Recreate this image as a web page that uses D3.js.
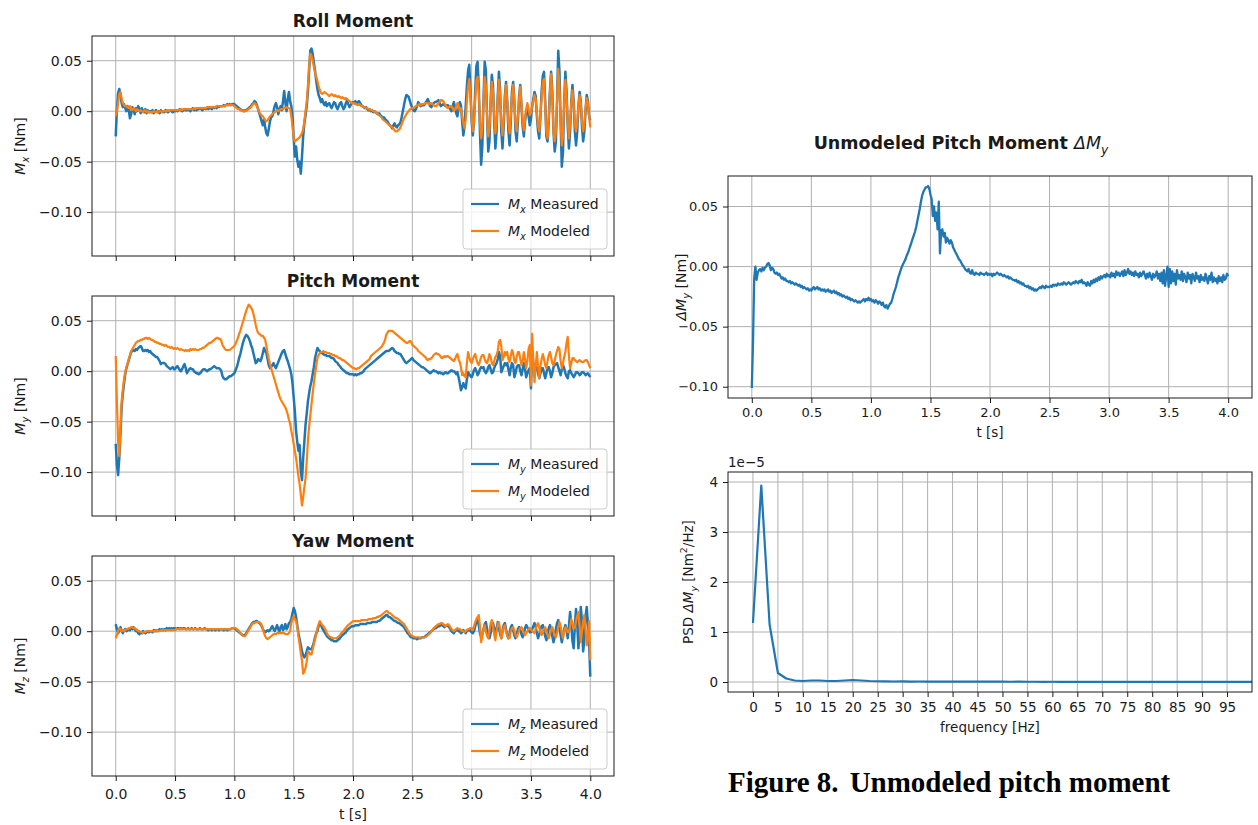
<!DOCTYPE html>
<html>
<head>
<meta charset="utf-8">
<script src="https://cdn.jsdelivr.net/npm/d3@7"></script>
<style>
  body { margin: 0; background: #fff; }
  text { font-family: "DejaVu Sans", sans-serif; }
</style>
</head>
<body>
<div id="chart"></div>
<script>
// ---------------------------------------------------------------------------
// Flight data: moments sampled every 10 ms from t = 0 to t = 4 s, values in mNm
// ---------------------------------------------------------------------------
const sampleStep = 0.01; // s

const rollMeasured = [
  -25, 2, 18, 22, 16, 8, 4, 7, 3, 0,
  5, 1, -7, -3, 4, 2, -3, 3, 0, 5,
  2, -2, 3, 0, -1, 2, -2, 1, -1, 0,
  -1, 1, -2, 0, 1, -1, 0, -2, 1, -1,
  0, -1, 1, 0, -1, 0, 1, 0, -1, 0,
  0, 1, 0, 1, 2, 1, 0, 1, 2, 1,
  1, 2, 1, 0, 2, 3, 1, 2, 1, 2,
  2, 3, 2, 1, 2, 3, 2, 3, 2, 3,
  3, 2, 4, 3, 4, 3, 5, 4, 5, 5,
  5, 6, 5, 6, 7, 6, 7, 6, 7, 7,
  7, 6, 5, 4, 3, 2, 1, 1, 0, 1,
  1, 2, 3, 4, 5, 7, 8, 10, 9, 6,
  2, -2, -6, -10, -14, -8, -16, -22, -24, -18,
  -10, -6, -5, 0, 5, 8, 4, -3, 2, 5,
  1, 10, 20, 8, 0, 12, 19, 10, 5, -5,
  -27, -45, -35, -48, -55, -50, -62, -45, -25, -12,
  -4, 5, 19, 40, 60, 62, 57, 48, 40, 30,
  22, 16, 13, 9, 12, 8, 6, 9, 5, 7,
  8, 5, 3, 6, 9, 8, 4, 2, 5, 8,
  9, 5, 2, 4, 8, 11, 7, 4, 6, 8,
  9, 8, 10, 7, 9, 10, 8, 6, 5, 4,
  3, 4, 2, 1, 2, 0, 1, -1, 0, -1,
  -2, -3, -2, -4, -5, -7, -6, -8, -9, -10,
  -12, -14, -15, -17, -14, -12, -15, -16, -14, -13,
  -11, -6, 0, 6, 12, 16, 15, 14, 10, 6,
  3, 1, 0, 2, 5, 9, 7, 5, 6, 6,
  6, 8, 10, 12, 9, 5, 4, 6, 8, 9,
  9, 10, 11, 8, 5, 6, 7, 6, 5, 6,
  6, 4, 2, 0, 5, 9, 4, -2, -5, 3,
  9, 6, -10, -24, -15, 5, 25, 40, 46, 20,
  -10, -24, -10, 20, 45, 49, 25, -20, -53, -35,
  10, 49, 40, -5, -40, -30, 10, 36, 25, -10,
  -37, -20, 15, 39, 20, -20, -37, -15, 15, 29,
  10, -20, -34, -10, 20, 29, 10, -20, -30, -10,
  15, 26, 5, -15, -25, -10, 0, 4, -5, -14,
  -8, 5, 12, 19, 15, -5, -20, -27, -5, 20,
  35, 39, 10, -25, -30, -10, 20, 39, 20, -20,
  -40, -30, 10, 60, 40, -10, -55, -40, 10, 39,
  20, -15, -37, -20, 10, 26, 10, -20, -34, -20,
  5, 19, 10, -15, -30, -20, 0, 16, 10, -5,
  -9
];

const rollModeled = [
  -5, 0, 8, 17, 19, 12, 8, 6, 5, 5,
  4, 3, 5, 2, 1, 3, 2, 0, 2, 1,
  0, 1, 0, -1, 0, 1, -1, 0, -1, -1,
  -1, -1, 0, -1, -1, 0, -1, 0, 0, -1,
  0, 0, 0, 0, 1, 0, 1, 1, 1, 1,
  1, 1, 1, 1, 1, 2, 1, 2, 2, 2,
  2, 2, 2, 2, 2, 2, 3, 2, 3, 3,
  3, 3, 3, 3, 3, 3, 3, 4, 4, 4,
  4, 4, 4, 4, 4, 5, 5, 5, 5, 5,
  5, 5, 5, 6, 6, 6, 6, 6, 6, 6,
  5, 4, 3, 2, 2, 1, 1, 0, 0, 0,
  0, 1, 2, 3, 4, 6, 7, 8, 7, 5,
  2, -1, -3, -4, -5, -7, -9, -10, -9, -7,
  -5, -4, -3, -2, -1, 0, 1, 0, 1, 2,
  2, 2, 3, 3, 4, 3, 3, 2, -5, -15,
  -27, -30, -29, -28, -27, -26, -24, -22, -18, -10,
  0, 9, 25, 45, 57, 55, 50, 44, 38, 34,
  30, 25, 21, 18, 17, 18, 19, 18, 17, 16,
  15, 16, 17, 16, 15, 16, 15, 14, 15, 14,
  13, 14, 13, 12, 13, 12, 11, 10, 9, 8,
  8, 8, 7, 7, 6, 7, 6, 5, 5, 4,
  4, 3, 3, 2, 2, 1, 1, 0, 0, -1,
  -2, -3, -4, -5, -6, -8, -9, -10, -11, -12,
  -13, -14, -15, -16, -17, -19, -20, -20, -19, -18,
  -16, -13, -10, -7, -5, -3, -1, 0, 2, 2,
  3, 3, 4, 5, 6, 6, 7, 6, 7, 7,
  7, 8, 8, 8, 7, 8, 8, 7, 6, 5,
  5, 6, 8, 9, 11, 11, 10, 8, 6, 4,
  3, 4, 5, 5, 3, 0, 2, 5, 8, 6,
  0, 3, -5, -12, -17, -8, 10, 25, 32, 15,
  -5, -20, -10, 12, 30, 34, 18, -10, -27, -18,
  10, 34, 25, -5, -25, -18, 8, 29, 20, -5,
  -22, -12, 12, 31, 18, -10, -24, -10, 12, 26,
  10, -12, -22, -5, 15, 26, 10, -12, -20, -5,
  12, 24, 8, -10, -19, -8, 2, 8, 2, -4,
  -2, 5, 10, 16, 12, -2, -14, -20, -5, 15,
  28, 32, 5, -20, -27, -8, 18, 37, 15, -20,
  -30, -20, 10, 42, 25, -10, -34, -25, 8, 31,
  15, -10, -27, -12, 8, 21, 8, -12, -20, -12,
  5, 16, 8, -10, -20, -12, 2, 13, 8, -5,
  -16
];

const pitchMeasured = [
  -72, -92, -103, -86, -62, -35, -22, -12, -3, 3,
  7, 11, 15, 19, 20, 21, 20, 22, 21, 23,
  24, 25, 23, 20, 20, 21, 20, 21, 19, 20,
  18, 17, 16, 15, 14, 14, 12, 10, 7, 8,
  8, 8, 7, 5, 4, 3, 2, 3, 4, 2,
  2, 4, 5, 3, 1, 0, 2, 5, 7, 3,
  -2, 0, 2, 3, 2, 2, 0, -1, -2, -2,
  -3, -2, -1, 1, 2, 2, 1, 0, 1, 2,
  2, 3, 4, 5, 4, 3, 3, 3, 2, 0,
  -5, -7, -8, -8, -7, -6, -5, -5, -4, -3,
  -2, 1, 4, 8, 13, 17, 22, 27, 31, 34,
  36, 35, 33, 30, 26, 23, 18, 13, 8, 9,
  12, 11, 10, 13, 18, 23, 20, 18, 12, 6,
  3, 4, 6, 8, 5, 3, 6, 9, 12, 15,
  18, 20, 21, 17, 13, 10, 6, 2, -3, -12,
  -26, -40, -59, -70, -79, -73, -99, -108, -86, -70,
  -53, -42, -30, -22, -15, -10, -3, 4, 13, 18,
  23, 21, 20, 18, 18, 17, 16, 16, 15, 15,
  15, 14, 13, 13, 12, 10, 9, 8, 6, 5,
  3, 2, 1, 0, -1, -2, -2, -3, -3, -3,
  -3, -4, -3, -4, -3, -3, -2, -2, -1, 0,
  2, 3, 4, 5, 6, 7, 8, 9, 10, 11,
  12, 13, 14, 15, 16, 17, 18, 19, 20, 20,
  20, 21, 22, 23, 22, 20, 19, 18, 18, 17,
  17, 15, 13, 11, 9, 8, 9, 10, 11, 12,
  13, 11, 10, 9, 8, 7, 6, 5, 4, 4,
  3, 2, 1, 0, -1, -2, -1, 0, 1, 0,
  0, -1, -2, -1, -2, -2, -3, -2, -1, -2,
  -2, -1, 0, 1, 0, 0, -1, -3, -1, -6,
  -12, -19, -16, -12, -15, -17, -8, -1, -3, -5,
  -6, -3, 1, 3, 0, -4, -2, 2, 4, 3,
  4, 0, -2, 0, 4, 6, 2, -2, -1, 3,
  6, 8, 12, 19, 15, -1, 2, 5, 8, 6,
  8, 2, -4, 3, 8, 6, -6, -2, 4, 6,
  6, 0, -4, 2, 8, 2, -6, -2, 1, 3,
  -17, 19, 8, 4, 2, 4, -2, -7, -2, 3,
  3, -2, -7, -2, 4, 4, 0, -6, -2, 4,
  6, 7, 8, 4, 0, -4, 2, 6, 3, -2,
  -5, -7, 0, 1, -2, -4, -6, -4, -1, -1,
  -2, -4, -3, -1, -1, -2, -4, -3, -2, -4,
  -6
];

const pitchModeled = [
  15, -30, -70, -84, -55, -30, -18, -8, -1, 4,
  7, 12, 16, 20, 22, 24, 26, 28, 29, 30,
  30, 31, 31, 32, 32, 33, 33, 32, 33, 32,
  31, 31, 30, 29, 29, 28, 28, 27, 27, 26,
  26, 25, 26, 25, 24, 24, 23, 24, 23, 22,
  23, 22, 23, 22, 21, 22, 21, 21, 20, 21,
  20, 21, 20, 22, 21, 22, 21, 22, 21, 21,
  21, 22, 22, 23, 23, 24, 25, 26, 27, 28,
  28, 29, 30, 31, 32, 33, 33, 32, 32, 30,
  26, 24, 22, 21, 21, 21, 21, 22, 23, 24,
  25, 27, 30, 33, 37, 40, 44, 48, 52, 56,
  60, 63, 66, 65, 63, 61, 57, 52, 46, 41,
  38, 37, 36, 35, 35, 33, 31, 25, 18, 12,
  7, 3, -1, -5, -9, -13, -17, -21, -25, -28,
  -30, -32, -34, -36, -39, -43, -48, -52, -59, -65,
  -72, -79, -86, -95, -104, -112, -122, -133, -125, -115,
  -106, -90, -69, -55, -44, -33, -22, -12, -3, 5,
  13, 16, 18, 19, 19, 20, 19, 19, 18, 18,
  18, 17, 17, 16, 16, 15, 15, 14, 13, 13,
  12, 11, 11, 10, 9, 8, 7, 6, 5, 4,
  3, 3, 2, 2, 3, 3, 4, 5, 6, 7,
  8, 9, 10, 11, 12, 15, 16, 17, 18, 19,
  20, 21, 22, 23, 24, 26, 28, 31, 36, 38,
  40, 40, 40, 40, 39, 38, 37, 36, 35, 34,
  33, 32, 31, 30, 29, 28, 28, 29, 30, 29,
  26, 25, 24, 23, 22, 20, 19, 18, 17, 16,
  15, 14, 12, 11, 12, 12, 13, 14, 16, 17,
  18, 17, 17, 16, 14, 13, 14, 15, 14, 15,
  15, 14, 13, 12, 11, 10, 12, 15, 17, 12,
  9, 4, -4, -2, -5, -6, 8, 19, 14, 10,
  8, 12, 15, 17, 12, 8, 6, 10, 14, 16,
  16, 12, 9, 8, 12, 17, 14, 8, 6, 10,
  14, 16, 20, 29, 31, 25, 11, 14, 19, 16,
  19, 12, 9, 15, 21, 18, 10, 8, 14, 19,
  19, 12, 6, 10, 19, 12, 3, 10, 22, 26,
  -14, 37, 10, -11, 5, 19, 5, -7, 5, 12,
  17, 12, 6, 3, 10, 16, 19, 14, 8, 6,
  10, 16, 20, 24, 22, 10, 3, 8, 14, 19,
  28, 34, 15, 3, 8, 13, 13, 11, 10, 9,
  10, 11, 10, 9, 9, 10, 11, 11, 9, 6,
  3
];

const yawMeasured = [
  7, 2, -2, 1, 4, 0, -2, 1, 2, 0,
  1, 2, 1, 3, 2, 4, 2, 0, 1, -2,
  -3, -1, -2, 0, -1, -2, -1, 0, -1, 0,
  0, -1, 1, 0, 1, 0, 1, 2, 1, 2,
  1, 2, 1, 3, 2, 3, 2, 3, 2, 3,
  3, 2, 3, 3, 2, 3, 2, 3, 3, 2,
  2, 3, 2, 2, 3, 2, 2, 3, 2, 2,
  2, 3, 2, 2, 2, 3, 2, 2, 1, 2,
  2, 1, 2, 2, 1, 2, 2, 1, 2, 2,
  2, 1, 2, 2, 1, 2, 2, 2, 3, 3,
  3, 2, 1, 0, -1, -2, -3, -4, -4, -4,
  -2, 0, 2, 4, 6, 8, 9, 9, 10, 10,
  9, 8, 7, 5, 2, 0, -1, 0, 1, 0,
  1, 3, 5, 2, 0, 3, 6, 2, 0, 4,
  6, 1, 3, 7, 2, 4, 8, 9, 12, 18,
  23, 20, 14, 6, -2, -8, -14, -20, -24, -26,
  -24, -20, -16, -17, -18, -18, -15, -11, -6, -2,
  0, 5, 8, 6, 3, 1, -1, -3, -5, -6,
  -7, -8, -9, -9, -10, -10, -10, -9, -8, -7,
  -5, -4, -3, -2, -1, 1, 2, 3, 4, 5,
  5, 5, 6, 6, 6, 6, 7, 7, 7, 7,
  7, 7, 8, 8, 8, 8, 9, 9, 9, 9,
  9, 10, 10, 11, 12, 13, 14, 15, 16, 16,
  14, 14, 13, 12, 11, 10, 10, 9, 8, 8,
  7, 6, 5, 4, 2, 0, -2, -3, -5, -6,
  -6, -7, -7, -7, -8, -7, -7, -7, -6, -6,
  -6, -5, -4, -3, -2, -1, 0, 1, 2, 3,
  3, 4, 5, 5, 6, 6, 5, 4, 5, 6,
  5, 4, 2, 0, -1, -2, 0, 1, 2, 0,
  0, -2, -1, 1, 0, -2, 0, 1, 2, 0,
  -1, -2, 0, 5, 9, 11, 6, -2, -6, -3,
  2, 7, 9, 2, -5, -7, -2, 4, 8, 3,
  -3, 2, 9, 4, -3, -7, 0, 6, 8, 2,
  -4, -7, -2, 4, 6, 1, -4, -7, -3, 2,
  4, 1, -3, -6, -2, 3, 6, 4, 1, -1,
  -1, 2, 5, 8, 4, -2, -7, -3, 2, 5,
  6, 0, -5, -9, -3, 3, 6, 2, -5, -11,
  -6, 2, 8, 11, 5, -4, -11, -5, 2, 6,
  1, -7, 5, 19, 6, -10, -17, 5, 22, 8,
  -17, 0, 24, 10, -20, -8, 14, 24, 8, -10,
  -45
];

const yawModeled = [
  -7, -4, 0, 3, 2, 0, 1, 0, 1, 2,
  2, 3, 3, 4, 4, 3, 3, 2, 1, 0,
  0, -1, -1, -2, -1, -1, 0, 0, 0, 0,
  0, 0, 0, 0, 0, 1, 0, 0, 1, 1,
  1, 1, 1, 1, 1, 1, 1, 1, 1, 1,
  1, 2, 2, 2, 2, 2, 2, 2, 2, 2,
  2, 2, 2, 2, 2, 2, 2, 2, 2, 2,
  2, 2, 2, 2, 2, 2, 2, 2, 2, 2,
  2, 2, 2, 2, 2, 2, 2, 2, 2, 2,
  2, 2, 2, 2, 2, 2, 2, 2, 3, 3,
  3, 3, 2, 1, 0, -2, -3, -4, -5, -5,
  -3, -1, 1, 3, 5, 7, 8, 8, 9, 9,
  9, 9, 8, 6, 3, -2, -5, -7, -8, -7,
  -6, -5, -4, -3, -3, -3, -2, -2, -2, -2,
  -2, -2, -2, -3, -3, -3, -2, 0, 8, 12,
  15, 12, 10, 5, -5, -13, -22, -29, -42, -40,
  -36, -30, -20, -21, -23, -23, -18, -13, -8, -3,
  3, 7, 10, 8, 6, 5, 3, 1, -2, -4,
  -5, -6, -6, -7, -7, -7, -7, -6, -5, -4,
  -2, -1, 0, 2, 3, 5, 6, 7, 8, 9,
  10, 10, 10, 10, 10, 10, 10, 11, 11, 11,
  11, 11, 11, 12, 12, 12, 12, 13, 13, 13,
  14, 14, 15, 15, 16, 17, 18, 19, 20, 20,
  18, 18, 17, 16, 15, 14, 13, 13, 12, 11,
  10, 9, 8, 7, 5, 3, 1, -1, -3, -4,
  -5, -5, -6, -6, -6, -6, -6, -7, -6, -6,
  -6, -6, -5, -4, -3, -2, 0, 1, 3, 4,
  5, 6, 7, 7, 8, 8, 7, 6, 5, 6,
  7, 6, 4, 2, 1, 0, 1, 2, 3, 2,
  2, 1, 0, 0, -1, 0, 1, 2, 2, 3,
  3, 1, 5, 9, 12, 14, 16, 5, -11, -5,
  2, 6, 0, -5, -7, 0, 8, 11, 5, -3,
  -9, 0, 7, 9, 2, -7, -2, 4, 6, 0,
  -4, -7, -7, 0, 3, 4, 0, -4, -6, -3,
  1, 3, 4, 2, -2, -4, -2, 0, 2, 3,
  2, 0, -1, -2, 2, 6, 8, 4, -1, -4,
  -1, 2, 4, 0, -4, -7, -3, 2, 4, 0,
  -4, -6, -2, 4, 9, 5, -2, -7, 0, 4,
  2, -1, -1, 5, 12, 8, 3, 3, 10, 15,
  19, 5, -11, 0, 10, 16, 2, -14, -5, 10,
  -29
];

// Unmodeled pitch moment (measured minus modeled), mNm
const deltaPitch = [
  -101, -62, -10, 0, -11, -5, -3, -2, -4, -1,
  -3, -1, 0, 2, 3, 1, -3, -1, -2, -5,
  -6, -5, -7, -6, -8, -10, -9, -11, -10, -12,
  -12, -13, -12, -14, -13, -14, -15, -14, -15, -16,
  -15, -17, -16, -18, -17, -18, -19, -18, -20, -19,
  -20, -18, -17, -19, -18, -17, -19, -18, -20, -19,
  -20, -19, -21, -20, -19, -21, -20, -22, -21, -20,
  -22, -21, -23, -22, -24, -23, -25, -24, -25, -26,
  -25, -27, -26, -28, -27, -28, -29, -28, -29, -30,
  -29, -30, -29, -28, -27, -29, -27, -28, -26, -28,
  -27, -29, -28, -30, -28, -29, -31, -29, -30, -32,
  -30, -33, -34, -32, -35, -33, -31, -30, -27, -23,
  -20, -17, -13, -9, -6, -3, 0, 2, 4, 6,
  9, 11, 14, 17, 20, 23, 26, 29, 33, 38,
  43, 48, 54, 59, 62, 64, 66, 66, 67, 65,
  60, 56, 42, 50, 38, 45, 31, 54, 11, 30,
  31, 25, 28, 20, 24, 22, 19, 22, 20, 16,
  14, 12, 10, 8, 6, 5, 3, 1, 0, -2,
  -3, -4, -2, -5, -6, -3, -6, -7, -5, -6,
  -6, -7, -5, -6, -6, -7, -6, -5, -7, -6,
  -7, -6, -8, -6, -7, -6, -5, -6, -7, -6,
  -7, -8, -7, -8, -9, -8, -10, -9, -10, -11,
  -11, -12, -11, -13, -12, -14, -13, -15, -14, -16,
  -16, -17, -16, -18, -17, -19, -18, -20, -19, -20,
  -19, -18, -17, -18, -16, -17, -18, -16, -17, -17,
  -17, -16, -17, -15, -16, -15, -16, -14, -15, -15,
  -14, -15, -13, -14, -15, -14, -13, -14, -15, -14,
  -13, -14, -12, -13, -14, -12, -13, -11, -14, -13,
  -14, -16, -13, -15, -16, -12, -14, -11, -13, -10,
  -12, -9, -11, -8, -10, -8, -7, -9, -6, -8,
  -7, -9, -5, -8, -6, -9, -4, -7, -5, -8,
  -6, -4, -8, -3, -7, -5, -2, -6, -4, -7,
  -5, -8, -4, -7, -6, -9, -5, -8, -6, -4,
  -7, -10, -6, -9, -5, -8, -11, -6, -9, -7,
  -4, -10, -6, -12, -5, -14, -3, -16, -8, 0,
  -17, -2, -14, -4, -12, -6, -15, -3, -10, -7,
  -11, -4, -12, -6, -9, -13, -5, -10, -7, -14,
  -6, -9, -12, -5, -10, -8, -13, -7, -11, -9,
  -12, -6, -10, -14, -8, -11, -5, -13, -9, -12,
  -10, -14, -8, -12, -9, -13, -7, -11, -10, -6,
  -8
];

// Power spectral density of the unmodeled pitch moment, units of 1e-5 Nm^2/Hz,
// one bin every 5/3 Hz starting at 0 Hz
const psdBinWidth = 5 / 3; // Hz
const psdDeltaPitch = [
  1.18, 3.93, 1.15, 0.18, 0.07, 0.03, 0.02, 0.03, 0.03, 0.02,
  0.02, 0.03, 0.04, 0.03, 0.02, 0.015, 0.012, 0.010, 0.011, 0.009,
  0.010, 0.008, 0.009, 0.008, 0.007, 0.008, 0.007, 0.006, 0.007, 0.006,
  0.006, 0.005, 0.006, 0.005, 0.005, 0.004, 0.005, 0.004, 0.004, 0.004,
  0.003, 0.004, 0.003, 0.003, 0.003, 0.003, 0.002, 0.003, 0.002, 0.002,
  0.002, 0.002, 0.002, 0.002, 0.001, 0.002, 0.001, 0.001, 0.001, 0.001,
  0.001, 0.001, 0.001
];

// Tick values
const timeTicks = [0, 0.5, 1.0, 1.5, 2.0, 2.5, 3.0, 3.5, 4.0];
const momentTicks = [-0.10, -0.05, 0.00, 0.05];
const psdTicks = [0, 1, 2, 3, 4];
const freqTicks = [0, 5, 10, 15, 20, 25, 30, 35, 40, 45, 50, 55, 60, 65, 70, 75, 80, 85, 90, 95];

// ---------------------------------------------------------------------------
const BLUE = "#1f77b4", ORANGE = "#ff7f0e", GRID = "#b0b0b0", INK = "#1a1a1a";
const FS = 14;

const svg = d3.select("#chart").append("svg")
  .attr("width", 1258).attr("height", 825)
  .style("background", "#fff");

// write text made of plain / italic / subscript / superscript pieces
function richText(sel, parts, size) {
  let shift = 0;
  parts.forEach(p => {
    const ts = sel.append("tspan").text(p.t);
    let target = 0;
    if (p.sub) target = 0.28 * size;
    if (p.sup) target = -0.42 * size;
    const dy = target - shift;
    if (dy !== 0) ts.attr("dy", dy);
    shift = target;
    if (p.sub || p.sup) ts.attr("font-size", 0.7 * size);
    if (p.it) ts.attr("font-style", "italic");
    if (p.normal) ts.attr("font-weight", "normal");
  });
  return sel;
}

let clipSeq = 0;
function makePanel(o) {
  const fs = o.fontSize || FS;
  const x = d3.scaleLinear().domain(o.xDomain).range([o.left, o.left + o.width]);
  const y = d3.scaleLinear().domain(o.yDomain).range([o.top + o.height, o.top]);
  const g = svg.append("g");

  const grid = g.append("g").attr("stroke", GRID).attr("stroke-width", 1);
  grid.selectAll("line.gx").data(o.xTicks).join("line").attr("class", "gx")
    .attr("x1", d => x(d)).attr("x2", d => x(d))
    .attr("y1", o.top).attr("y2", o.top + o.height);
  grid.selectAll("line.gy").data(o.yTicks).join("line").attr("class", "gy")
    .attr("x1", o.left).attr("x2", o.left + o.width)
    .attr("y1", d => y(d)).attr("y2", d => y(d));

  const xAxis = g.append("g").attr("transform", `translate(0,${o.top + o.height})`)
    .call(d3.axisBottom(x).tickValues(o.xTicks)
      .tickFormat(o.xLabels ? o.xFormat : () => "")
      .tickSizeInner(5).tickSizeOuter(0).tickPadding(o.xPad || 5));
  const yAxis = g.append("g").attr("transform", `translate(${o.left},0)`)
    .call(d3.axisLeft(y).tickValues(o.yTicks).tickFormat(o.yFormat)
      .tickSizeInner(5).tickSizeOuter(0).tickPadding(5));
  [xAxis, yAxis].forEach(a => {
    a.select(".domain").remove();
    a.selectAll("line").attr("stroke", INK).attr("stroke-width", 1);
    a.selectAll("text").attr("font-size", fs).attr("fill", INK)
      .attr("font-family", "DejaVu Sans");
  });

  const id = "clip" + (clipSeq++);
  svg.append("clipPath").attr("id", id).append("rect")
    .attr("x", o.left).attr("y", o.top).attr("width", o.width).attr("height", o.height);
  const plot = g.append("g").attr("clip-path", `url(#${id})`);

  const frame = () => g.append("rect")
    .attr("x", o.left).attr("y", o.top).attr("width", o.width).attr("height", o.height)
    .attr("fill", "none").attr("stroke", INK).attr("stroke-width", 1);

  return { x, y, g, plot, frame, o };
}

function drawSeries(p, values, xOf, yOf, color, width) {
  const line = d3.line().x((d, i) => p.x(xOf(i))).y(d => p.y(yOf(d)));
  p.plot.append("path").datum(values)
    .attr("d", line)
    .attr("fill", "none").attr("stroke", color)
    .attr("stroke-width", width).attr("stroke-linejoin", "round");
}

function legend(p, sym) {
  const o = p.o, w = 144, h = 60;
  const bx = o.left + o.width - 7 - w, by = o.top + o.height - 7 - h;
  const lg = p.g.append("g");
  lg.append("rect").attr("x", bx).attr("y", by).attr("width", w).attr("height", h)
    .attr("rx", 3).attr("fill", "#fff").attr("fill-opacity", 0.8)
    .attr("stroke", "#cccccc").attr("stroke-width", 1);
  [["Measured", BLUE], ["Modeled", ORANGE]].forEach(([name, color], i) => {
    const cy = by + 15 + i * 27;
    lg.append("line").attr("x1", bx + 8).attr("x2", bx + 36)
      .attr("y1", cy).attr("y2", cy).attr("stroke", color).attr("stroke-width", 2.2);
    const t = lg.append("text").attr("x", bx + 45).attr("y", cy + 5)
      .attr("font-size", FS).attr("fill", INK);
    richText(t, [{ t: "M", it: true }, { t: sym, it: true, sub: true }, { t: " " + name }], FS);
  });
}

const timeFmt = d3.format(".1f");
const momentFmt = d3.format(".2f");
const tOf = i => i * sampleStep;
const mNm = v => v / 1000;

// ---- left column: roll, pitch and yaw moments ----
const leftPanels = [
  { title: "Roll Moment", sym: "x", measured: rollMeasured, modeled: rollModeled, top: 36 },
  { title: "Pitch Moment", sym: "y", measured: pitchMeasured, modeled: pitchModeled, top: 296 },
  { title: "Yaw Moment", sym: "z", measured: yawMeasured, modeled: yawModeled, top: 556 }
];

leftPanels.forEach((cfg, k) => {
  const last = k === leftPanels.length - 1;
  const p = makePanel({
    left: 92, top: cfg.top, width: 522, height: 220,
    xDomain: [-0.2, 4.2], yDomain: [-0.1435, 0.0745],
    xTicks: timeTicks, yTicks: momentTicks,
    xLabels: last, xFormat: timeFmt, yFormat: momentFmt, xPad: 8
  });
  drawSeries(p, cfg.measured, tOf, mNm, BLUE, 2.5);
  drawSeries(p, cfg.modeled, tOf, mNm, ORANGE, 2.2);
  p.frame();
  legend(p, cfg.sym);

  svg.append("text").attr("x", 92 + 261).attr("y", cfg.top - 9)
    .attr("text-anchor", "middle").attr("font-size", 17).attr("font-weight", "bold")
    .attr("fill", INK).text(cfg.title);

  const yl = svg.append("text")
    .attr("transform", `translate(25,${cfg.top + 110}) rotate(-90)`)
    .attr("text-anchor", "middle").attr("font-size", FS).attr("fill", INK);
  richText(yl, [{ t: "M", it: true }, { t: cfg.sym, it: true, sub: true }, { t: " [Nm]" }], FS);

  if (last) {
    svg.append("text").attr("x", 353).attr("y", cfg.top + 220 + 43)
      .attr("text-anchor", "middle").attr("font-size", FS).attr("fill", INK).text("t [s]");
  }
});

// ---- right column: unmodeled pitch moment and its spectrum ----
const rTitle = svg.append("text").attr("x", 961).attr("y", 149)
  .attr("text-anchor", "middle").attr("font-size", 17.5).attr("font-weight", "bold").attr("fill", INK);
richText(rTitle, [{ t: "Unmodeled Pitch Moment " }, { t: "ΔM", it: true, normal: true },
  { t: "y", it: true, sub: true, normal: true }], 17.5);

const dp = makePanel({
  left: 728, top: 176, width: 524, height: 222,
  xDomain: [-0.2, 4.2], yDomain: [-0.1094, 0.0754],
  xTicks: timeTicks, yTicks: [-0.10, -0.05, 0.00, 0.05],
  xLabels: true, xFormat: timeFmt, yFormat: momentFmt, fontSize: 13
});
drawSeries(dp, deltaPitch, tOf, mNm, BLUE, 2.3);
dp.frame();
svg.append("text").attr("x", 990).attr("y", 398 + 39)
  .attr("text-anchor", "middle").attr("font-size", 13.5).attr("fill", INK).text("t [s]");
const dyl = svg.append("text")
  .attr("transform", `translate(686,287) rotate(-90)`)
  .attr("text-anchor", "middle").attr("font-size", 14).attr("fill", INK);
richText(dyl, [{ t: "ΔM", it: true }, { t: "y", it: true, sub: true }, { t: " [Nm]" }], 14);

const ps = makePanel({
  left: 728, top: 472, width: 524, height: 220,
  xDomain: [-5, 100], yDomain: [-0.2, 4.2],
  xTicks: freqTicks, yTicks: psdTicks,
  xLabels: true, xFormat: d3.format("d"), yFormat: d3.format("d"), fontSize: 13.5
});
drawSeries(ps, psdDeltaPitch, i => i * psdBinWidth, v => v, BLUE, 2.2);
ps.frame();
svg.append("text").attr("x", 728).attr("y", 467)
  .attr("font-size", 13.5).attr("fill", INK).text("1e\u22125");
svg.append("text").attr("x", 990).attr("y", 692 + 40)
  .attr("text-anchor", "middle").attr("font-size", 13.5).attr("fill", INK).text("frequency [Hz]");
const pyl = svg.append("text")
  .attr("transform", `translate(693,582) rotate(-90)`)
  .attr("text-anchor", "middle").attr("font-size", 13.5).attr("fill", INK);
richText(pyl, [{ t: "PSD " }, { t: "ΔM", it: true }, { t: "y", it: true, sub: true },
  { t: " [Nm" }, { t: "2", sup: true }, { t: "/Hz]" }], 13.5);

// ---- figure caption ----
const cap = svg.append("text").attr("x", 728).attr("y", 792)
  .style("font-family", "'Liberation Serif', 'Times New Roman', serif")
  .attr("font-size", 29).attr("font-weight", "bold").attr("fill", "#000");
cap.append("tspan").text("Figure 8.");
cap.append("tspan").attr("dx", 11).text("Unmodeled pitch moment");
</script>
</body>
</html>
